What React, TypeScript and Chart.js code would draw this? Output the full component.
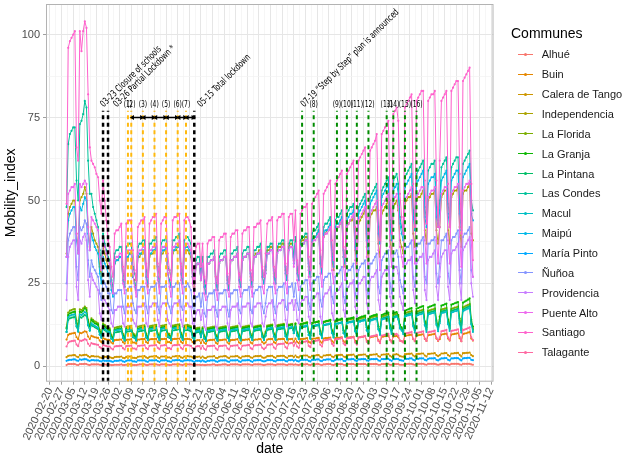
import { useEffect, useRef } from "react"
import { Chart, registerables } from "chart.js"

Chart.register(...registerables)

// weekly ticks on the date axis
const tickLabels = [
  "2020-02-20", "2020-02-27", "2020-03-05", "2020-03-12", "2020-03-19", "2020-03-26",
  "2020-04-02", "2020-04-09", "2020-04-16", "2020-04-23", "2020-04-30", "2020-05-07",
  "2020-05-14", "2020-05-21", "2020-05-28", "2020-06-04", "2020-06-11", "2020-06-18",
  "2020-06-25", "2020-07-02", "2020-07-09", "2020-07-16", "2020-07-23", "2020-07-30",
  "2020-08-06", "2020-08-13", "2020-08-20", "2020-08-27", "2020-09-03", "2020-09-10",
  "2020-09-17", "2020-09-24", "2020-10-01", "2020-10-08", "2020-10-15", "2020-10-22",
  "2020-10-29", "2020-11-05", "2020-11-12",
]
const yTickLabels = ["0", "25", "50", "75", "100"]

// daily series start on this date (a Sunday), one value per day
const firstDate = "2020-03-01"

const communes = [
  "Alhué", "Buin", "Calera de Tango", "Independencia", "La Florida", "La Granja",
  "La Pintana", "Las Condes", "Macul", "Maipú", "María Pinto", "Ñuñoa",
  "Providencia", "Puente Alto", "Santiago", "Talagante",
]
const colors = [
  "#F8766D", "#E58700", "#CD9600", "#ABA300", "#7CAE00", "#0CB702",
  "#00BE67", "#00C19A", "#00BFC4", "#00B8E7", "#00A9FF", "#8494FF",
  "#C77CFF", "#ED68ED", "#FF61CC", "#FF68A1",
]

const alhue = [
  0.4,
  0.7, 0.7, 0.7, 0.7, 0.7, 0.5, 0.4,
  0.7, 0.7, 0.7, 0.8, 0.7, 0.5, 0.4,
  0.6, 0.6, 0.6, 0.6, 0.6, 0.5, 0.4,
  0.6, 0.6, 0.5, 0.5, 0.5, 0.4, 0.4,
  0.5, 0.5, 0.5, 0.5, 0.6, 0.4, 0.4,
  0.5, 0.5, 0.6, 0.6, 0.4, 0.4, 0.4,
  0.5, 0.6, 0.6, 0.6, 0.6, 0.4, 0.4,
  0.6, 0.6, 0.6, 0.6, 0.6, 0.5, 0.4,
  0.6, 0.6, 0.6, 0.6, 0.5, 0.4, 0.4,
  0.6, 0.6, 0.6, 0.6, 0.6, 0.5, 0.4,
  0.6, 0.6, 0.6, 0.6, 0.6, 0.5, 0.4,
  0.5, 0.5, 0.5, 0.4, 0.5, 0.4, 0.4,
  0.5, 0.5, 0.5, 0.6, 0.6, 0.4, 0.4,
  0.5, 0.5, 0.6, 0.6, 0.6, 0.4, 0.4,
  0.6, 0.6, 0.6, 0.6, 0.6, 0.5, 0.4,
  0.6, 0.6, 0.6, 0.6, 0.6, 0.5, 0.4,
  0.6, 0.6, 0.6, 0.6, 0.6, 0.5, 0.4,
  0.5, 0.6, 0.6, 0.6, 0.6, 0.5, 0.4,
  0.6, 0.6, 0.6, 0.6, 0.6, 0.5, 0.4,
  0.6, 0.6, 0.6, 0.5, 0.6, 0.5, 0.4,
  0.6, 0.6, 0.6, 0.6, 0.7, 0.5, 0.4,
  0.6, 0.6, 0.6, 0.7, 0.7, 0.5, 0.4,
  0.6, 0.6, 0.7, 0.7, 0.7, 0.5, 0.4,
  0.6, 0.7, 0.7, 0.7, 0.7, 0.5, 0.4,
  0.7, 0.7, 0.7, 0.7, 0.7, 0.5, 0.5,
  0.7, 0.7, 0.7, 0.7, 0.7, 0.5, 0.5,
  0.7, 0.7, 0.7, 0.7, 0.7, 0.5, 0.5,
  0.7, 0.7, 0.7, 0.7, 0.8, 0.5, 0.5,
  0.7, 0.7, 0.7, 0.7, 0.5, 0.5, 0.5,
  0.7, 0.7, 0.8, 0.8, 0.8, 0.6, 0.5,
  0.7, 0.8, 0.8, 0.8, 0.8, 0.6, 0.5,
  0.8, 0.8, 0.8, 0.8, 0.8, 0.6, 0.5,
  0.6, 0.8, 0.8, 0.8, 0.8, 0.6, 0.5,
  0.8, 0.8, 0.8, 0.8, 0.8, 0.6, 0.5,
  0.8, 0.8, 0.8, 0.8, 0.8, 0.6, 0.5,
]
const buin = [
  8.1,
  9.5, 9.8, 9.9, 10, 10.1, 8.8, 8.2,
  10.1, 10, 10.3, 10.6, 10.4, 9, 8.3,
  9.2, 9, 8.8, 8.7, 8.6, 7.8, 7.3,
  8.5, 8.3, 8.1, 8, 7.9, 7.2, 6.9,
  7.9, 8, 8, 8.1, 8.1, 7.3, 6.9,
  8, 8.1, 8.1, 8.2, 7.2, 7.2, 6.9,
  8.1, 8.1, 8.2, 8.2, 8.3, 7.3, 7,
  8.1, 8.2, 8.2, 8.3, 8.3, 7.4, 7,
  8.2, 8.2, 8.3, 8.3, 7.3, 7.3, 7,
  8.2, 8.3, 8.3, 8.4, 8.4, 7.4, 7,
  8.2, 8.3, 8.3, 8.2, 8.1, 7.3, 6.9,
  7.8, 7.9, 7.9, 7, 8, 7.1, 6.8,
  7.8, 7.9, 8, 8, 8.1, 7.1, 6.8,
  7.9, 7.9, 8, 8.1, 8.1, 7.2, 6.8,
  7.9, 8, 8, 8.1, 8.2, 7.2, 6.9,
  8, 8, 8.1, 8.1, 8.2, 7.2, 6.9,
  8, 8.1, 8.1, 8.2, 8.2, 7.3, 6.9,
  7.2, 8.1, 8.2, 8.2, 8.3, 7.3, 7,
  8.1, 8.2, 8.2, 8.3, 8.3, 7.3, 7,
  8.2, 8.2, 8.3, 7.4, 8.4, 7.4, 7,
  8.2, 8.3, 8.3, 8.4, 8.5, 7.4, 7.1,
  8.3, 8.4, 8.4, 8.5, 8.6, 7.5, 7.1,
  8.4, 8.5, 8.5, 8.6, 8.7, 7.6, 7.2,
  8.5, 8.6, 8.6, 8.7, 8.8, 7.6, 7.2,
  8.6, 8.7, 8.8, 8.8, 8.9, 7.7, 7.3,
  8.7, 8.8, 8.9, 9, 9.1, 7.8, 7.4,
  8.8, 8.9, 9, 9.1, 9.2, 7.9, 7.4,
  8.9, 9, 9.1, 9.2, 9.3, 8, 7.5,
  9, 9.1, 9.2, 8.8, 7.8, 7.6, 7.4,
  9.2, 9.3, 9.4, 9.5, 9.6, 8.2, 7.6,
  9.3, 9.4, 9.5, 9.6, 9.7, 8.3, 7.7,
  9.4, 9.5, 9.6, 9.7, 9.8, 8.4, 7.7,
  8.2, 9.6, 9.7, 9.8, 9.9, 8.4, 7.8,
  9.6, 9.7, 9.8, 9.9, 10, 8.5, 7.6,
  9.8, 9.9, 10, 10.2, 10.4, 8.4, 7.8,
]
const caleraDeTango = [
  2.8,
  3.2, 3.3, 3.3, 3.4, 3.4, 3, 2.8,
  3.4, 3.3, 3.4, 3.5, 3.5, 3.1, 2.8,
  3.1, 3.1, 3, 3, 3, 2.7, 2.6,
  3, 2.9, 2.9, 2.8, 2.8, 2.6, 2.5,
  2.8, 2.9, 2.9, 2.9, 3, 2.6, 2.5,
  2.9, 2.9, 3, 3, 2.6, 2.6, 2.5,
  2.9, 3, 3, 3, 3.1, 2.7, 2.5,
  2.9, 3, 3, 3.1, 3.1, 2.7, 2.5,
  3, 3, 3, 3.1, 2.7, 2.7, 2.5,
  3, 3, 3.1, 3.1, 3.1, 2.7, 2.6,
  3, 3, 3.1, 3, 3, 2.7, 2.5,
  2.9, 2.9, 3, 2.6, 3, 2.6, 2.5,
  2.9, 3, 3, 3, 3.1, 2.6, 2.5,
  2.9, 3, 3, 3.1, 3.1, 2.7, 2.5,
  3, 3, 3, 3.1, 3.1, 2.7, 2.5,
  3, 3, 3.1, 3.1, 3.1, 2.7, 2.6,
  3, 3.1, 3.1, 3.1, 3.2, 2.7, 2.6,
  2.7, 3.1, 3.1, 3.2, 3.2, 2.8, 2.6,
  3.1, 3.1, 3.2, 3.2, 3.2, 2.8, 2.6,
  3.1, 3.2, 3.2, 2.8, 3.3, 2.8, 2.7,
  3.2, 3.2, 3.3, 3.3, 3.3, 2.9, 2.7,
  3.2, 3.3, 3.3, 3.4, 3.4, 2.9, 2.7,
  3.3, 3.3, 3.4, 3.4, 3.5, 3, 2.8,
  3.3, 3.4, 3.4, 3.5, 3.5, 3, 2.8,
  3.4, 3.4, 3.5, 3.5, 3.6, 3, 2.8,
  3.4, 3.5, 3.5, 3.6, 3.6, 3.1, 2.9,
  3.5, 3.5, 3.6, 3.6, 3.7, 3.1, 2.9,
  3.5, 3.6, 3.6, 3.7, 3.7, 3.2, 2.9,
  3.6, 3.6, 3.7, 3.5, 3.1, 3, 2.9,
  3.7, 3.7, 3.8, 3.8, 3.9, 3.3, 3,
  3.7, 3.8, 3.8, 3.9, 3.9, 3.3, 3,
  3.8, 3.8, 3.9, 3.9, 4, 3.4, 3.1,
  3.4, 3.9, 3.9, 4, 4, 3.4, 3.1,
  3.9, 3.9, 4, 4, 4.1, 3.5, 3,
  4, 4, 4.1, 4.1, 4.2, 3.4, 3.1,
]
const independencia = [
  34,
  46, 48, 49, 50, 50, 40, 35,
  50, 51, 52, 54, 52, 42, 36,
  42, 40, 38, 37, 36, 30, 27,
  36, 34, 32, 30, 30, 25, 22,
  31, 32, 32, 33, 33, 26, 24,
  33, 33, 34, 34, 27, 26, 23,
  33, 33, 34, 34, 35, 27, 24,
  33, 34, 34, 35, 35, 27, 24,
  34, 34, 35, 35, 28, 26, 24,
  34, 35, 35, 36, 36, 28, 25,
  34, 35, 35, 34, 33, 27, 24,
  30, 31, 31, 26, 31, 24, 22,
  31, 31, 32, 32, 33, 25, 23,
  31, 32, 32, 33, 33, 26, 23,
  32, 32, 33, 33, 34, 26, 24,
  32, 33, 33, 34, 34, 27, 24,
  33, 34, 34, 35, 35, 27, 25,
  29, 35, 35, 36, 36, 28, 25,
  35, 36, 36, 37, 37, 29, 26,
  36, 37, 37, 32, 38, 29, 26,
  37, 38, 38, 39, 39, 30, 27,
  38, 39, 39, 40, 41, 31, 28,
  39, 40, 41, 41, 42, 32, 29,
  41, 42, 42, 43, 44, 33, 30,
  42, 43, 44, 44, 45, 35, 31,
  43, 44, 45, 46, 47, 36, 32,
  45, 46, 47, 47, 48, 37, 33,
  46, 47, 48, 49, 50, 38, 34,
  48, 49, 50, 47, 38, 36, 34,
  49, 50, 51, 51, 52, 40, 36,
  50, 51, 51, 52, 53, 41, 37,
  50, 51, 52, 52, 53, 41, 37,
  42, 51, 52, 53, 53, 41, 37,
  51, 52, 53, 53, 54, 42, 36,
  52, 53, 53, 54, 55, 40, 38,
]
const laFlorida = [
  11.8,
  16.2, 16.8, 17, 17.2, 17.3, 13.8, 12,
  17.2, 17, 17.5, 18, 17.6, 14, 12.4,
  14.5, 14, 13.6, 13.3, 13, 11, 10,
  13, 12.5, 12, 11.6, 11.5, 9.5, 8.8,
  11.6, 11.8, 11.9, 12, 12.1, 9.8, 8.8,
  11.9, 12, 12.1, 12.2, 10, 9.7, 8.8,
  12, 12.1, 12.2, 12.3, 12.4, 9.9, 8.9,
  12.1, 12.2, 12.3, 12.4, 12.5, 10, 9,
  12.2, 12.3, 12.4, 12.5, 10, 9.8, 8.9,
  12.3, 12.4, 12.5, 12.6, 12.7, 10.1, 9,
  12.3, 12.4, 12.5, 12.3, 12.1, 9.8, 8.8,
  11.5, 11.6, 11.7, 9.9, 11.8, 9.4, 8.6,
  11.6, 11.7, 11.8, 11.9, 12, 9.5, 8.7,
  11.7, 11.8, 11.9, 12, 12.1, 9.6, 8.7,
  11.8, 11.9, 12, 12.1, 12.2, 9.7, 8.8,
  11.9, 12, 12.1, 12.2, 12.3, 9.8, 8.9,
  12, 12.1, 12.2, 12.3, 12.4, 9.9, 9,
  10.4, 12.3, 12.4, 12.5, 12.6, 10, 9.1,
  12.4, 12.5, 12.6, 12.7, 12.8, 10.2, 9.2,
  12.6, 12.7, 12.8, 11, 13, 10.3, 9.3,
  12.8, 12.9, 13, 13.1, 13.3, 10.5, 9.4,
  13.1, 13.2, 13.3, 13.4, 13.6, 10.7, 9.6,
  13.4, 13.5, 13.6, 13.7, 13.9, 10.9, 9.8,
  13.7, 13.8, 13.9, 14, 14.2, 10.9, 10,
  14, 14.1, 14.2, 14.3, 14.5, 11.4, 10.2,
  14.3, 14.4, 14.6, 14.7, 14.9, 11.7, 10.4,
  14.7, 14.8, 15, 15.1, 15.3, 12, 10.6,
  15, 15.2, 15.3, 15.5, 15.7, 12.3, 10.8,
  15.5, 15.7, 15.9, 15, 12.2, 11.5, 10.6,
  16, 16.2, 16.4, 16.5, 16.7, 12.9, 11.2,
  16.4, 16.6, 16.8, 16.9, 17.1, 13.2, 11.4,
  16.7, 16.9, 17.1, 17.2, 17.4, 13.4, 11.6,
  14, 17.1, 17.3, 17.4, 17.6, 13.6, 11.7,
  17.3, 17.5, 17.7, 17.8, 18, 13.8, 11.2,
  17.8, 18, 18.3, 18.5, 18.8, 13.5, 11.5,
]
const laGranja = [
  11.4,
  15.5, 16, 16.2, 16.4, 16.5, 13, 11.5,
  16.5, 16.3, 16.8, 17.5, 17, 13.5, 12,
  14, 13.5, 13, 12.8, 12.5, 10.5, 9.5,
  12.5, 12, 11.5, 11, 11, 9, 8.5,
  11, 11.2, 11.3, 11.4, 11.5, 9.3, 8.4,
  11.3, 11.4, 11.5, 11.6, 9.5, 9.2, 8.4,
  11.4, 11.5, 11.6, 11.8, 11.9, 9.4, 8.5,
  11.5, 11.6, 11.8, 11.9, 12, 9.5, 8.5,
  11.6, 11.8, 11.9, 12, 9.6, 9.3, 8.5,
  11.8, 11.9, 12, 12.1, 12.2, 9.6, 8.6,
  11.8, 11.9, 12, 11.8, 11.6, 9.4, 8.4,
  11, 11.2, 11.3, 9.5, 11.4, 9, 8.2,
  11.2, 11.3, 11.4, 11.5, 11.6, 9.1, 8.3,
  11.3, 11.4, 11.5, 11.6, 11.7, 9.2, 8.3,
  11.4, 11.5, 11.6, 11.7, 11.8, 9.3, 8.4,
  11.5, 11.6, 11.7, 11.8, 12, 9.4, 8.5,
  11.7, 11.8, 11.9, 12, 12.1, 9.5, 8.6,
  10, 12, 12.1, 12.2, 12.3, 9.6, 8.7,
  12.1, 12.2, 12.3, 12.4, 12.5, 9.8, 8.8,
  12.4, 12.5, 12.6, 10.8, 12.8, 10, 9,
  12.7, 12.8, 12.9, 13, 13.2, 10.2, 9.2,
  13, 13.2, 13.3, 13.4, 13.6, 10.5, 9.4,
  13.4, 13.6, 13.7, 13.8, 14, 10.8, 9.6,
  13.8, 14, 14.1, 14.2, 14.4, 10.8, 9.8,
  14.2, 14.4, 14.5, 14.6, 14.8, 11.4, 10,
  14.6, 14.8, 15, 15.1, 15.3, 11.7, 10.3,
  15, 15.2, 15.4, 15.5, 15.7, 12, 10.5,
  15.5, 15.7, 15.9, 16, 16.2, 12.4, 10.8,
  16, 16.2, 16.4, 15.5, 12.5, 11.8, 10.8,
  16.8, 17, 17.2, 17.4, 17.6, 13.2, 11.4,
  17.4, 17.6, 17.8, 18, 18.2, 13.6, 11.8,
  17.8, 18, 18.2, 18.4, 18.6, 13.9, 12,
  15, 18.3, 18.5, 18.7, 18.9, 14.1, 12.2,
  18.6, 18.8, 19, 19.2, 19.4, 14.4, 11.5,
  19.2, 19.5, 19.8, 20.1, 20.5, 14, 12,
]
const laPintana = [
  10.4,
  14, 14.5, 14.7, 14.8, 14.9, 12, 10.5,
  14.9, 14.7, 15.1, 15.5, 15.2, 12.3, 10.8,
  12.5, 12.1, 11.8, 11.5, 11.3, 9.6, 8.8,
  11.3, 10.9, 10.5, 10.2, 10.1, 8.4, 7.8,
  10.2, 10.3, 10.4, 10.5, 10.6, 8.6, 7.8,
  10.4, 10.5, 10.6, 10.7, 8.8, 8.5, 7.8,
  10.5, 10.6, 10.7, 10.8, 10.9, 8.7, 7.9,
  10.6, 10.7, 10.8, 10.9, 11, 8.8, 7.9,
  10.7, 10.8, 10.9, 11, 8.9, 8.6, 7.9,
  10.8, 10.9, 11, 11.1, 11.2, 8.9, 8,
  10.8, 10.9, 11, 10.8, 10.6, 8.7, 7.8,
  10.2, 10.3, 10.4, 8.8, 10.5, 8.4, 7.7,
  10.3, 10.4, 10.5, 10.6, 10.7, 8.5, 7.8,
  10.4, 10.5, 10.6, 10.7, 10.8, 8.6, 7.8,
  10.5, 10.6, 10.7, 10.8, 10.9, 8.7, 7.9,
  10.6, 10.7, 10.8, 10.9, 11, 8.8, 8,
  10.7, 10.8, 10.9, 11, 11.1, 8.9, 8,
  9.2, 11, 11.1, 11.2, 11.3, 9, 8.1,
  11.1, 11.2, 11.3, 11.4, 11.5, 9.1, 8.2,
  11.4, 11.5, 11.6, 10, 11.8, 9.3, 8.4,
  11.7, 11.8, 11.9, 12, 12.2, 9.5, 8.5,
  12, 12.1, 12.2, 12.3, 12.5, 9.8, 8.7,
  12.4, 12.5, 12.6, 12.7, 12.9, 10.1, 8.9,
  12.8, 12.9, 13, 13.1, 13.3, 10.1, 9.1,
  13.2, 13.3, 13.4, 13.5, 13.7, 10.7, 9.4,
  13.6, 13.7, 13.9, 14, 14.2, 11, 9.7,
  14, 14.1, 14.3, 14.4, 14.6, 11.3, 9.9,
  14.4, 14.6, 14.7, 14.9, 15.1, 11.7, 10.2,
  14.9, 15.1, 15.3, 14.4, 11.7, 11.1, 10.2,
  15.4, 15.6, 15.8, 15.9, 16.1, 12.4, 10.8,
  15.8, 16, 16.2, 16.3, 16.5, 12.7, 11,
  16.1, 16.3, 16.5, 16.6, 16.8, 12.9, 11.2,
  13.5, 16.5, 16.7, 16.8, 17, 13.1, 11.3,
  16.7, 16.9, 17.1, 17.2, 17.4, 13.3, 10.8,
  17.2, 17.4, 17.7, 17.9, 18.2, 13, 11,
]
const lasCondes = [
  48,
  67, 70, 71, 72, 72, 56, 50,
  73, 74, 76, 80, 78, 62, 52,
  52, 48, 46, 44, 42, 35, 31,
  40, 37, 35, 33, 32, 26, 24,
  34, 35, 35, 36, 36, 28, 26,
  36, 37, 37, 37, 30, 28, 26,
  36, 37, 37, 38, 38, 29, 27,
  37, 37, 38, 38, 39, 30, 27,
  37, 38, 38, 39, 30, 29, 27,
  38, 38, 39, 39, 40, 30, 28,
  38, 39, 39, 38, 37, 29, 27,
  32, 33, 33, 28, 33, 26, 24,
  33, 33, 34, 34, 35, 27, 25,
  33, 34, 34, 35, 35, 27, 25,
  34, 34, 35, 35, 36, 28, 26,
  34, 35, 35, 36, 36, 28, 26,
  35, 35, 36, 36, 37, 29, 27,
  30, 36, 36, 37, 37, 29, 27,
  36, 37, 37, 38, 38, 30, 28,
  37, 38, 38, 33, 39, 30, 28,
  38, 39, 39, 40, 40, 31, 29,
  40, 41, 41, 42, 43, 33, 30,
  42, 43, 43, 44, 45, 35, 32,
  44, 45, 45, 46, 47, 35, 33,
  46, 47, 48, 48, 49, 38, 35,
  48, 49, 50, 51, 52, 40, 37,
  51, 52, 53, 54, 55, 42, 39,
  53, 54, 55, 56, 57, 44, 40,
  56, 57, 58, 55, 45, 42, 40,
  57, 58, 59, 60, 61, 47, 43,
  58, 59, 60, 61, 62, 48, 44,
  59, 60, 61, 61, 62, 48, 44,
  50, 60, 61, 62, 63, 49, 45,
  60, 61, 62, 63, 63, 49, 44,
  61, 62, 63, 64, 65, 50, 47,
]
const macul = [
  10.4,
  14.8, 15.3, 15.5, 15.6, 15.7, 12.2, 10.5,
  15.7, 15.5, 15.9, 16.4, 16, 12.5, 10.8,
  13, 12.6, 12.2, 11.9, 11.7, 9.6, 8.6,
  11.7, 11.3, 10.9, 10.5, 10.4, 8.4, 7.6,
  10.8, 10.9, 11, 11.1, 11.2, 8.8, 7.8,
  11, 11.1, 11.2, 11.3, 9, 8.7, 7.8,
  11.1, 11.2, 11.3, 11.4, 11.5, 8.9, 7.9,
  11.2, 11.3, 11.4, 11.5, 11.6, 9, 7.9,
  11.3, 11.4, 11.5, 11.6, 9.1, 8.8, 7.9,
  11.4, 11.5, 11.6, 11.7, 11.8, 9.1, 8,
  11.4, 11.5, 11.6, 11.4, 11.2, 8.9, 7.8,
  10.6, 10.7, 10.8, 9, 10.9, 8.5, 7.6,
  10.7, 10.8, 10.9, 11, 11.1, 8.6, 7.7,
  10.8, 10.9, 11, 11.1, 11.2, 8.7, 7.7,
  10.9, 11, 11.1, 11.2, 11.3, 8.8, 7.8,
  11, 11.1, 11.2, 11.3, 11.4, 8.9, 7.9,
  11.1, 11.2, 11.3, 11.4, 11.5, 9, 7.9,
  9.4, 11.4, 11.5, 11.6, 11.7, 9.1, 8,
  11.5, 11.6, 11.7, 11.8, 11.9, 9.2, 8.1,
  11.7, 11.8, 11.9, 10.1, 12.1, 9.3, 8.2,
  11.9, 12, 12.1, 12.2, 12.4, 9.5, 8.3,
  12.2, 12.3, 12.4, 12.5, 12.7, 9.7, 8.5,
  12.5, 12.6, 12.7, 12.8, 13, 10, 8.7,
  12.8, 12.9, 13, 13.1, 13.3, 10, 8.9,
  13.1, 13.2, 13.3, 13.4, 13.6, 10.5, 9.1,
  13.4, 13.5, 13.7, 13.8, 14, 10.8, 9.3,
  13.8, 13.9, 14.1, 14.2, 14.4, 11.1, 9.5,
  14.1, 14.3, 14.4, 14.6, 14.8, 11.4, 9.8,
  14.6, 14.8, 15, 14.1, 11.4, 10.8, 9.7,
  15, 15.2, 15.4, 15.5, 15.7, 12, 10.2,
  15.3, 15.5, 15.7, 15.8, 16, 12.3, 10.4,
  15.6, 15.8, 16, 16.1, 16.3, 12.5, 10.6,
  13, 16, 16.2, 16.3, 16.5, 12.7, 10.7,
  16.2, 16.4, 16.6, 16.7, 16.9, 12.9, 10.2,
  16.7, 16.9, 17.2, 17.4, 17.7, 12.6, 10.4,
]
const maipu = [
  33,
  44, 46, 47, 48, 48, 38, 34,
  48, 47, 49, 51, 50, 40, 35,
  40, 38, 36, 35, 34, 28, 25,
  33, 31, 30, 28, 28, 23, 21,
  31, 32, 32, 33, 33, 26, 24,
  33, 33, 34, 34, 27, 25, 23,
  33, 34, 34, 35, 35, 27, 25,
  34, 34, 35, 35, 36, 27, 25,
  34, 35, 35, 36, 28, 26, 24,
  35, 35, 36, 36, 37, 28, 25,
  35, 36, 36, 35, 34, 27, 25,
  30, 31, 31, 26, 31, 24, 22,
  31, 31, 32, 32, 33, 25, 23,
  31, 32, 32, 33, 33, 25, 23,
  32, 32, 33, 33, 34, 26, 24,
  32, 33, 33, 34, 34, 26, 24,
  33, 33, 34, 34, 35, 27, 25,
  28, 34, 34, 35, 35, 27, 25,
  34, 35, 35, 36, 36, 28, 26,
  35, 36, 36, 31, 37, 28, 26,
  36, 37, 37, 38, 38, 29, 27,
  38, 39, 39, 40, 41, 31, 28,
  40, 41, 41, 42, 43, 33, 30,
  42, 43, 43, 44, 45, 33, 31,
  44, 45, 46, 46, 47, 36, 33,
  46, 47, 48, 49, 50, 38, 35,
  49, 50, 51, 52, 53, 40, 37,
  51, 52, 53, 54, 55, 42, 38,
  53, 54, 55, 52, 43, 40, 38,
  54, 55, 56, 57, 58, 45, 41,
  55, 56, 57, 58, 59, 45, 42,
  55, 56, 57, 57, 58, 45, 42,
  47, 56, 57, 58, 59, 46, 42,
  56, 57, 58, 59, 59, 46, 41,
  57, 58, 59, 60, 61, 46, 44,
]
const mariaPinto = [
  1.7,
  1.9, 2, 2, 2.1, 2.1, 1.8, 1.7,
  2.1, 2, 2.1, 2.2, 2.1, 1.8, 1.7,
  1.9, 1.9, 1.8, 1.8, 1.8, 1.6, 1.5,
  1.8, 1.7, 1.7, 1.7, 1.7, 1.5, 1.4,
  1.7, 1.7, 1.7, 1.8, 1.8, 1.5, 1.4,
  1.7, 1.8, 1.8, 1.8, 1.5, 1.5, 1.4,
  1.8, 1.8, 1.8, 1.8, 1.8, 1.5, 1.4,
  1.8, 1.8, 1.8, 1.8, 1.9, 1.6, 1.4,
  1.8, 1.8, 1.8, 1.9, 1.6, 1.5, 1.4,
  1.8, 1.8, 1.9, 1.9, 1.9, 1.6, 1.5,
  1.8, 1.8, 1.9, 1.8, 1.8, 1.6, 1.4,
  1.7, 1.7, 1.7, 1.5, 1.8, 1.5, 1.4,
  1.7, 1.7, 1.8, 1.8, 1.8, 1.5, 1.4,
  1.7, 1.8, 1.8, 1.8, 1.8, 1.5, 1.4,
  1.8, 1.8, 1.8, 1.8, 1.9, 1.5, 1.4,
  1.8, 1.8, 1.8, 1.9, 1.9, 1.6, 1.4,
  1.8, 1.8, 1.9, 1.9, 1.9, 1.6, 1.5,
  1.6, 1.9, 1.9, 1.9, 1.9, 1.6, 1.5,
  1.9, 1.9, 1.9, 1.9, 2, 1.6, 1.5,
  1.9, 1.9, 2, 1.7, 2, 1.6, 1.5,
  1.9, 2, 2, 2, 2, 1.7, 1.5,
  2, 2, 2, 2.1, 2.1, 1.7, 1.6,
  2, 2, 2.1, 2.1, 2.1, 1.7, 1.6,
  2, 2.1, 2.1, 2.1, 2.2, 1.7, 1.6,
  2.1, 2.1, 2.1, 2.2, 2.2, 1.8, 1.6,
  2.1, 2.1, 2.2, 2.2, 2.2, 1.8, 1.7,
  2.1, 2.2, 2.2, 2.2, 2.3, 1.8, 1.7,
  2.2, 2.2, 2.2, 2.3, 2.3, 1.9, 1.7,
  2.2, 2.2, 2.3, 2.2, 1.9, 1.8, 1.7,
  2.3, 2.3, 2.3, 2.4, 2.4, 2, 1.8,
  2.3, 2.3, 2.4, 2.4, 2.4, 2, 1.8,
  2.3, 2.4, 2.4, 2.4, 2.5, 2, 1.8,
  2.1, 2.4, 2.4, 2.5, 2.5, 2, 1.8,
  2.4, 2.4, 2.5, 2.5, 2.5, 2.1, 1.8,
  2.4, 2.5, 2.5, 2.6, 2.6, 2, 1.9,
]
const nunoa = [
  25,
  38, 40, 41, 42, 42, 30, 26,
  42, 41, 42, 44, 43, 32, 27,
  32, 30, 29, 28, 27, 22, 20,
  26, 25, 24, 22, 22, 17, 16,
  22, 22, 23, 23, 23, 18, 16,
  23, 23, 24, 24, 19, 17, 16,
  23, 23, 24, 24, 24, 18, 16,
  23, 24, 24, 24, 25, 18, 16,
  24, 24, 24, 25, 19, 18, 16,
  24, 24, 25, 25, 25, 18, 17,
  24, 24, 25, 24, 23, 18, 16,
  21, 21, 22, 18, 22, 16, 15,
  21, 22, 22, 22, 23, 17, 15,
  22, 22, 22, 23, 23, 17, 15,
  22, 22, 23, 23, 23, 17, 16,
  22, 23, 23, 23, 24, 17, 16,
  22, 23, 23, 24, 24, 18, 16,
  19, 23, 24, 24, 24, 18, 16,
  23, 24, 24, 24, 25, 18, 17,
  24, 24, 25, 21, 25, 19, 17,
  24, 25, 25, 26, 26, 19, 17,
  25, 26, 26, 27, 27, 20, 18,
  26, 27, 27, 28, 28, 21, 19,
  27, 28, 28, 29, 30, 21, 19,
  28, 29, 29, 30, 31, 22, 20,
  29, 30, 31, 31, 32, 23, 21,
  31, 31, 32, 33, 34, 24, 22,
  32, 33, 34, 34, 35, 25, 22,
  34, 34, 35, 33, 26, 24, 22,
  35, 36, 36, 37, 38, 27, 24,
  36, 37, 37, 38, 39, 27, 25,
  37, 37, 38, 38, 39, 28, 25,
  31, 38, 38, 39, 40, 28, 25,
  38, 39, 39, 40, 41, 29, 25,
  39, 40, 40, 41, 42, 29, 27,
]
const providencia = [
  20,
  33, 36, 37, 38, 38, 24, 20,
  38, 37, 39, 40, 38, 26, 21,
  28, 26, 25, 24, 23, 16, 14,
  21, 20, 19, 18, 17, 13, 12,
  17, 17, 18, 18, 18, 13, 12,
  18, 18, 18, 19, 14, 13, 12,
  18, 18, 18, 19, 19, 13, 12,
  18, 18, 19, 19, 19, 14, 12,
  18, 19, 19, 19, 14, 13, 12,
  18, 19, 19, 19, 20, 14, 12,
  18, 19, 19, 18, 18, 13, 12,
  16, 17, 17, 14, 17, 12, 11,
  17, 17, 17, 18, 18, 12, 11,
  17, 17, 18, 18, 18, 13, 11,
  17, 18, 18, 18, 19, 13, 12,
  18, 18, 18, 19, 19, 13, 12,
  18, 18, 19, 19, 19, 13, 12,
  15, 18, 19, 19, 20, 14, 12,
  18, 19, 19, 20, 20, 14, 12,
  19, 19, 20, 17, 20, 14, 13,
  19, 20, 20, 21, 21, 15, 13,
  20, 21, 21, 22, 22, 15, 13,
  21, 22, 22, 23, 24, 16, 14,
  22, 23, 23, 24, 25, 17, 15,
  23, 24, 25, 25, 26, 18, 15,
  25, 25, 26, 27, 27, 19, 16,
  26, 27, 27, 28, 29, 20, 17,
  27, 28, 29, 29, 30, 21, 18,
  29, 30, 30, 28, 21, 19, 17,
  30, 31, 32, 32, 33, 23, 19,
  31, 32, 33, 33, 34, 23, 20,
  32, 33, 33, 34, 35, 24, 20,
  27, 33, 34, 35, 35, 24, 20,
  34, 35, 35, 36, 37, 25, 20,
  35, 36, 37, 38, 39, 25, 21,
]
const puenteAlto = [
  33,
  52, 53, 54, 54, 55, 40, 34,
  55, 54, 55, 56, 55, 42, 35,
  45, 44, 43, 42, 41, 33, 29,
  38, 36, 34, 32, 31, 25, 22,
  32, 33, 33, 34, 34, 25, 22,
  34, 35, 35, 35, 28, 24, 21,
  34, 35, 35, 36, 36, 25, 22,
  35, 35, 36, 36, 37, 26, 22,
  35, 36, 36, 37, 28, 24, 21,
  36, 36, 37, 37, 38, 26, 22,
  36, 37, 37, 36, 35, 25, 21,
  30, 31, 31, 26, 31, 22, 20,
  31, 31, 32, 32, 33, 23, 20,
  31, 32, 32, 33, 33, 23, 21,
  32, 32, 33, 33, 34, 24, 21,
  32, 33, 33, 34, 34, 24, 21,
  33, 33, 34, 34, 35, 24, 22,
  28, 34, 34, 35, 35, 25, 22,
  34, 35, 35, 36, 36, 25, 22,
  35, 36, 36, 30, 37, 26, 23,
  36, 37, 37, 38, 38, 27, 23,
  37, 38, 38, 39, 40, 28, 24,
  39, 40, 40, 41, 42, 29, 25,
  41, 42, 42, 43, 44, 30, 26,
  42, 43, 44, 45, 46, 32, 27,
  44, 45, 46, 47, 48, 33, 28,
  46, 47, 48, 49, 50, 35, 29,
  48, 49, 50, 51, 52, 36, 30,
  50, 51, 52, 48, 36, 33, 30,
  50, 51, 52, 53, 54, 38, 31,
  51, 52, 53, 54, 54, 38, 31,
  51, 52, 53, 53, 54, 38, 31,
  42, 52, 53, 54, 54, 38, 31,
  52, 53, 54, 54, 55, 39, 30,
  53, 54, 55, 55, 56, 38, 27,
]
const santiago = [
  49,
  96, 98, 99, 100, 101, 66, 62,
  101, 95, 101, 104, 102, 82, 66,
  62, 61, 60, 58, 57, 50, 46,
  56, 50, 44, 38, 36, 30, 27,
  40, 41, 41, 42, 43, 30, 26,
  43, 44, 44, 44, 35, 29, 26,
  42, 43, 44, 44, 45, 31, 27,
  43, 44, 45, 45, 46, 31, 27,
  43, 44, 45, 45, 34, 29, 26,
  44, 45, 45, 46, 46, 31, 27,
  44, 45, 45, 44, 42, 29, 25,
  36, 37, 37, 30, 37, 27, 25,
  37, 38, 38, 39, 39, 27, 25,
  38, 39, 39, 40, 40, 28, 25,
  39, 40, 40, 41, 41, 28, 26,
  40, 41, 41, 42, 42, 29, 26,
  42, 42, 43, 43, 44, 30, 27,
  34, 43, 44, 44, 45, 30, 27,
  44, 45, 45, 46, 46, 31, 28,
  45, 46, 46, 38, 47, 32, 28,
  46, 47, 48, 48, 49, 33, 29,
  49, 50, 51, 52, 53, 35, 30,
  52, 53, 54, 55, 56, 38, 32,
  55, 56, 57, 58, 59, 36, 33,
  58, 59, 60, 61, 62, 42, 35,
  62, 63, 64, 65, 66, 45, 37,
  65, 66, 67, 68, 70, 47, 38,
  70, 71, 72, 73, 74, 50, 40,
  76, 77, 78, 74, 52, 45, 40,
  78, 79, 80, 81, 82, 55, 42,
  80, 81, 82, 83, 83, 56, 43,
  80, 81, 82, 82, 83, 56, 42,
  62, 80, 81, 82, 83, 55, 42,
  83, 84, 85, 86, 86, 58, 40,
  86, 87, 88, 89, 90, 55, 32,
]
const talagante = [
  6,
  7.2, 7.5, 7.6, 7.7, 7.8, 6.6, 6.1,
  7.8, 7.7, 7.9, 8.2, 8, 6.8, 6.2,
  7, 6.8, 6.7, 6.6, 6.5, 5.8, 5.4,
  6.4, 6.3, 6.1, 6, 6, 5.4, 5.1,
  6, 6.1, 6.1, 6.2, 6.2, 5.5, 5.1,
  6.1, 6.2, 6.2, 6.3, 5.4, 5.4, 5.1,
  6.2, 6.2, 6.3, 6.3, 6.4, 5.5, 5.2,
  6.2, 6.3, 6.3, 6.4, 6.4, 5.6, 5.2,
  6.3, 6.3, 6.4, 6.4, 5.5, 5.5, 5.2,
  6.3, 6.4, 6.4, 6.5, 6.5, 5.6, 5.2,
  6.3, 6.4, 6.4, 6.3, 6.2, 5.5, 5.1,
  6, 6.1, 6.1, 5.3, 6.2, 5.3, 5,
  6.1, 6.1, 6.2, 6.2, 6.3, 5.4, 5,
  6.1, 6.2, 6.2, 6.3, 6.3, 5.4, 5.1,
  6.2, 6.2, 6.3, 6.3, 6.4, 5.5, 5.1,
  6.2, 6.3, 6.3, 6.4, 6.5, 5.5, 5.2,
  6.3, 6.4, 6.4, 6.5, 6.6, 5.6, 5.2,
  5.6, 6.5, 6.6, 6.6, 6.7, 5.7, 5.3,
  6.6, 6.7, 6.8, 6.8, 6.9, 5.8, 5.4,
  6.9, 7, 7.1, 6.2, 7.2, 6, 5.6,
  7.2, 7.3, 7.4, 7.5, 7.6, 6.2, 5.8,
  7.5, 7.6, 7.7, 7.8, 8, 6.5, 6,
  7.8, 7.9, 8, 8.1, 8.3, 6.8, 6.2,
  8.1, 8.2, 8.3, 8.4, 8.6, 6.9, 6.4,
  8.4, 8.5, 8.6, 8.7, 8.9, 7.2, 6.6,
  8.7, 8.8, 8.9, 9, 9.2, 7.4, 6.8,
  9, 9.1, 9.2, 9.3, 9.5, 7.6, 7,
  9.3, 9.4, 9.5, 9.6, 9.8, 7.9, 7.2,
  9.6, 9.7, 9.8, 9.3, 7.8, 7.6, 7.2,
  9.9, 10, 10.1, 10.2, 10.4, 8.3, 7.6,
  10.1, 10.2, 10.3, 10.4, 10.6, 8.4, 7.7,
  10.3, 10.4, 10.5, 10.6, 10.8, 8.6, 7.8,
  8.8, 10.6, 10.7, 10.8, 11, 8.7, 7.9,
  10.7, 10.8, 10.9, 11, 11.2, 8.9, 7.6,
  11, 11.1, 11.3, 11.5, 11.8, 8.8, 7.9,
]

const seriesValues = [
  alhue, buin, caleraDeTango, independencia, laFlorida, laGranja, laPintana, lasCondes,
  macul, maipu, mariaPinto, nunoa, providencia, puenteAlto, santiago, talagante,
]

// policy events drawn as dashed vertical lines
const blackEventDates = ["2020-03-23", "2020-03-26", "2020-05-17"]
const blackEventLabels = ["03-23 Closure of schools", "03-26 Partial Lockdown *", "05-15 Total lockdown"]
const orangeEventDates = ["2020-04-07", "2020-04-09", "2020-04-16", "2020-04-23", "2020-04-30", "2020-05-07", "2020-05-12"]
const orangeEventLabels = ["(1)", "(2)", "(3)", "(4)", "(5)", "(6)", "(7)"]
const greenEventDates = [
  "2020-07-21", "2020-07-28", "2020-08-11", "2020-08-17", "2020-08-23",
  "2020-08-30", "2020-09-10", "2020-09-14", "2020-09-21", "2020-09-28",
]
const greenEventLabels = [
  "07-19 \u201cStep by Step\u201d plan is announced",
  "(8)", "(9)", "(10)", "(11)", "(12)", "(13)", "(14)", "(15)", "(16)",
]
const eventTop = 77
const arrowLevel = 75

// horizontal pixel nudges for the slanted event captions
const blackLabelNudge = [0, 8, 6]
const greenLabelNudge = 1.5

const dayMs = 86400000
const dayOf = (d: string) => (Date.parse(d) - Date.parse(tickLabels[0])) / dayMs

const X_MIN = -2.4
const X_MAX = 267.4
const Y_MIN = -4.6
const Y_MAX = 109.2

const LABEL_FONT = "9.5px 'DejaVu Sans Condensed', 'Liberation Sans Narrow', 'DejaVu Sans', sans-serif"

const annotationPlugin = {
  id: "panelExtras",
  afterDatasetsDraw(chart: any) {
    const { ctx, chartArea, scales } = chart
    const xs = scales.x
    const ys = scales.y
    ctx.save()
    ctx.strokeStyle = "#B3B3B3"
    ctx.lineWidth = 1
    ctx.strokeRect(chartArea.left + 0.5, chartArea.top + 0.5, chartArea.right - chartArea.left - 1, chartArea.bottom - chartArea.top - 1)

    ctx.fillStyle = "#000"
    ctx.font = LABEL_FONT
    const top = ys.getPixelForValue(eventTop)

    const rotated = (date: string, text: string, nudge: number) => {
      ctx.save()
      ctx.translate(xs.getPixelForValue(dayOf(date)) - 1 + nudge, top - 5)
      ctx.rotate(-Math.PI / 4)
      ctx.scale(0.78, 1)
      ctx.textAlign = "left"
      ctx.textBaseline = "middle"
      ctx.fillText(text, 0, 0)
      ctx.restore()
    }
    const flat = (date: string, text: string) => {
      ctx.save()
      ctx.translate(xs.getPixelForValue(dayOf(date)), top - 6)
      ctx.scale(0.7, 1)
      ctx.textAlign = "center"
      ctx.textBaseline = "middle"
      ctx.fillText(text, 0, 0)
      ctx.restore()
    }
    blackEventDates.forEach((d, i) => rotated(d, blackEventLabels[i], blackLabelNudge[i]))
    orangeEventDates.forEach((d, i) => flat(d, orangeEventLabels[i]))
    greenEventDates.forEach((d, i) =>
      i === 0 ? rotated(d, greenEventLabels[i], greenLabelNudge) : flat(d, greenEventLabels[i]),
    )
    ctx.restore()
  },
}

function vline(date: string, color: string, width: number, dash: number[]) {
  const d = dayOf(date)
  return {
    data: [{ x: d, y: Y_MIN }, { x: d, y: eventTop }],
    borderColor: color,
    borderWidth: width,
    borderDash: dash,
    pointRadius: 0,
    order: -10,
  }
}

export default function App() {
  const chartRef = useRef<HTMLCanvasElement>(null)
  const chartInstance = useRef<Chart | null>(null)

  useEffect(() => {
    const canvas = chartRef.current
    if (!canvas) return
    const ctx = canvas.getContext("2d")
    if (!ctx) return

    if (chartInstance.current) {
      chartInstance.current.destroy()
    }

    const start = dayOf(firstDate)
    const lines: any[] = seriesValues.map((values, i) => ({
      label: communes[i],
      data: values.map((v, k) => ({ x: start + k, y: v })),
      borderColor: colors[i],
      backgroundColor: colors[i],
      borderWidth: 1,
      pointRadius: 1.1,
      pointBorderWidth: 0,
      pointBackgroundColor: colors[i],
      order: 20 - i,
    }))

    const events: any[] = [
      ...blackEventDates.map((d) => vline(d, "#000000", 2.5, [4, 3.5])),
      ...orangeEventDates.map((d) => vline(d, "#FFB90F", 2, [4, 3.5])),
      ...greenEventDates.map((d) => vline(d, "#008B00", 2, [4, 3.5])),
    ]

    // arrows between consecutive lockdown steps
    const steps = [...orangeEventDates.slice(1), blackEventDates[2]].map(dayOf)
    const arrows: any[] = steps.slice(0, -1).map((a, i) => ({
      data: [{ x: a + 0.8, y: arrowLevel }, { x: steps[i + 1] - 0.8, y: arrowLevel }],
      borderColor: "#000",
      borderWidth: 1.3,
      pointStyle: "triangle",
      pointRadius: 2.8,
      pointRotation: [270, 90],
      pointBackgroundColor: "#000",
      pointBorderWidth: 0,
      order: -11,
    }))

    const xGrid: number[] = []
    tickLabels.forEach((_, k) => {
      xGrid.push(k * 7)
      if (k < tickLabels.length - 1) xGrid.push(k * 7 + 3.5)
    })
    const yGrid: number[] = []
    yTickLabels.forEach((_, k) => {
      yGrid.push(k * 25)
      if (k < yTickLabels.length - 1) yGrid.push(k * 25 + 12.5)
    })

    const isMajorX = (v: number) => v % 7 === 0
    const isMajorY = (v: number) => v % 25 === 0

    chartInstance.current = new Chart(ctx, {
      type: "line",
      data: { datasets: [...lines, ...events, ...arrows] },
      plugins: [annotationPlugin],
      options: {
        responsive: false,
        animation: false,
        events: [],
        layout: { padding: { left: 0, top: 3.3, right: 131.5, bottom: 0 } },
        plugins: { legend: { display: false }, tooltip: { enabled: false } },
        scales: {
          x: {
            type: "linear",
            min: X_MIN,
            max: X_MAX,
            afterBuildTicks: (scale: any) => {
              scale.ticks = xGrid.map((value) => ({ value }))
            },
            afterFit: (scale: any) => {
              scale.height = 77.3
              scale.paddingLeft = 0
              scale.paddingRight = 0
            },
            border: { display: false },
            grid: {
              color: (c: any) => (c.tick && isMajorX(c.tick.value) ? "#E6E6E6" : "#F2F2F2"),
              lineWidth: (c: any) => (c.tick && isMajorX(c.tick.value) ? 1 : 0.7),
              tickColor: (c: any) => (c.tick && isMajorX(c.tick.value) ? "#A0A0A0" : "rgba(0,0,0,0)"),
              tickLength: 3,
            },
            ticks: {
              autoSkip: false,
              minRotation: 65,
              maxRotation: 65,
              padding: 1,
              color: "#4D4D4D",
              font: { family: "'Liberation Sans', Arial, sans-serif", size: 11 },
              callback: (value: any) => (isMajorX(value) ? tickLabels[value / 7] : ""),
            },
            title: {
              display: true,
              text: "date",
              color: "#000",
              font: { family: "'Liberation Sans', Arial, sans-serif", size: 14 },
              padding: { top: 0, bottom: 1 },
            },
          },
          y: {
            min: Y_MIN,
            max: Y_MAX,
            afterBuildTicks: (scale: any) => {
              scale.ticks = yGrid.map((value) => ({ value }))
            },
            afterFit: (scale: any) => {
              scale.width = 46
              scale.paddingTop = 0
              scale.paddingBottom = 0
            },
            border: { display: false },
            grid: {
              color: (c: any) => (c.tick && isMajorY(c.tick.value) ? "#E6E6E6" : "#F2F2F2"),
              lineWidth: (c: any) => (c.tick && isMajorY(c.tick.value) ? 1 : 0.7),
              tickColor: (c: any) => (c.tick && isMajorY(c.tick.value) ? "#A0A0A0" : "rgba(0,0,0,0)"),
              tickLength: 3,
            },
            ticks: {
              padding: 3,
              color: "#4D4D4D",
              font: { family: "'Liberation Sans', Arial, sans-serif", size: 11 },
              callback: (value: any) => (isMajorY(value) ? yTickLabels[value / 25] : ""),
            },
            title: {
              display: true,
              text: "Mobility_index",
              color: "#000",
              font: { family: "'Liberation Sans', Arial, sans-serif", size: 14 },
              padding: { top: 3, bottom: 0 },
            },
          },
        },
      },
    } as any)

    return () => {
      if (chartInstance.current) {
        chartInstance.current.destroy()
        chartInstance.current = null
      }
    }
  }, [])

  return (
    <div style={{ position: "absolute", left: 0, top: 0, width: 625, height: 459, background: "#fff", fontFamily: "'Liberation Sans', Arial, sans-serif" }}>
      <canvas ref={chartRef} width={625} height={459} style={{ position: "absolute", left: 0, top: 0 }} />
      <div style={{ position: "absolute", left: 511, top: 24, fontSize: 14, color: "#000", lineHeight: "18px" }}>Communes</div>
      {communes.map((name, i) => (
        <div key={name} style={{ position: "absolute", left: 518, top: 54.3 + i * 19.87 - 10, width: 107, height: 20 }}>
          <span style={{ position: "absolute", left: 0, top: 9.5, width: 15, height: 1, background: colors[i] }} />
          <span style={{ position: "absolute", left: 6, top: 8.5, width: 3, height: 3, borderRadius: "50%", background: colors[i] }} />
          <span style={{ position: "absolute", left: 23.7, top: 0, lineHeight: "20px", fontSize: 11, color: "#1A1A1A", whiteSpace: "nowrap" }}>{name}</span>
        </div>
      ))}
    </div>
  )
}
